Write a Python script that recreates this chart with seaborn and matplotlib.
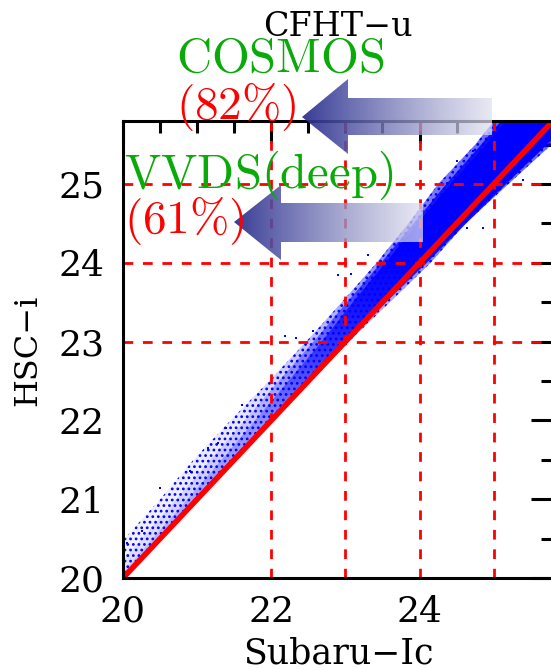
import numpy as np
import matplotlib
matplotlib.use("Agg")
import matplotlib.pyplot as plt
import seaborn as sns
from matplotlib.patches import Polygon
from matplotlib.ticker import FixedLocator, MultipleLocator

# ---------------- data ----------------
ref_line_ic = [20.0, 25.8]
ref_line_hsc = [20.0, 25.8]

# envelope of the point cloud at three density levels, per HSC-i value
band_hsc = [20.0, 20.5, 21.0, 21.5, 22.0, 22.5, 23.0, 23.5, 24.0, 24.5, 25.0, 25.5, 25.8]
sparse_ic_left = [19.55, 20.02, 20.5, 20.95, 21.45, 21.97, 22.47, 22.95, 23.42, 23.85, 24.25, 24.75, 25.0]
sparse_ic_right = [20.02, 20.52, 21.02, 21.52, 22.03, 22.53, 23.05, 23.6, 24.15, 24.62, 25.2, 25.78, 26.1]
mid_ic_left = [19.8, 20.25, 20.72, 21.18, 21.64, 22.1, 22.57, 23.02, 23.48, 23.92, 24.36, 24.83, 25.1]
mid_ic_right = [20.0, 20.5, 21.0, 21.5, 22.0, 22.5, 23.02, 23.55, 24.1, 24.63, 25.17, 25.72, 26.1]
dense_ic_left = [19.93, 20.4, 20.87, 21.33, 21.78, 22.23, 22.68, 23.1, 23.54, 23.97, 24.42, 24.9, 25.17]
dense_ic_right = [20.0, 20.5, 21.0, 21.5, 22.0, 22.5, 23.0, 23.53, 24.08, 24.6, 25.15, 25.7, 26.05]

# individual scattered points outside the bulk
outlier_ic = [20.5, 20.92, 21.15, 21.28, 21.39, 20.9, 22.18, 22.33, 22.56, 22.9, 23.07,
              24.5, 24.72, 24.85, 24.64, 20.05, 20.25, 21.6, 23.3, 25.4]
outlier_hsc = [21.14, 21.34, 21.65, 21.71, 21.91, 21.36, 23.07, 23.05, 23.14, 23.84, 23.86,
               25.29, 25.42, 24.44, 24.44, 20.45, 20.6, 22.2, 24.1, 25.05]

grid_x = [22, 23, 24, 25]
grid_y = [23, 24, 25]
x_major = [20, 22, 24]
y_major = [20, 21, 22, 23, 24, 25]
x_label = "Subaru\u2212Ic"
y_label = "HSC\u2212i"
title = "CFHT\u2212u"
ann_names = [r"$\mathrm{COSMOS}$", r"$\mathrm{VVDS(deep)}$"]
ann_pct = [r"$\mathrm{(82\%)}$", r"$\mathrm{(61\%)}$"]

# ---------------- figure ----------------
W, H = 551, 670
sns.set_theme(style="white")
plt.rcParams["font.family"] = ["DejaVu Serif", "DejaVu Sans"]
plt.rcParams["mathtext.fontset"] = "cm"
plt.rcParams["hatch.linewidth"] = 1.2

fig = plt.figure(figsize=(W / 100, H / 100), dpi=100)
ax = fig.add_axes([123 / W, 92 / H, 430 / W, 457 / H])


def shaded_band(left, right, alphas, z):
    coll = ax.fill_betweenx(band_hsc, left, right, facecolor="none", linewidth=0, zorder=z)
    path = coll.get_paths()[0]
    ys = np.linspace(20, 25.8, 300)
    a = np.interp(ys, [20, 22, 23.3, 24.3, 25.8], alphas)
    img = np.zeros((300, 1, 4))
    img[:, 0, 2] = 1.0
    img[:, 0, 3] = a
    im = ax.imshow(img, extent=(19.5, 26.2, 20, 25.8), origin="lower", aspect="auto",
                   interpolation="bilinear", zorder=z)
    im.set_clip_path(path, transform=ax.transData)


shaded_band(sparse_ic_left, sparse_ic_right, [0.05, 0.09, 0.3, 0.5, 0.6], 2.0)
shaded_band(mid_ic_left, mid_ic_right, [0.07, 0.15, 0.5, 0.8, 0.9], 2.1)
shaded_band(dense_ic_left, dense_ic_right, [0.12, 0.28, 0.7, 0.97, 1.0], 2.2)
ax.fill_betweenx(band_hsc, sparse_ic_left, sparse_ic_right, facecolor="none",
                 edgecolor="blue", hatch="...", linewidth=0, zorder=2.3)
sns.scatterplot(x=outlier_ic, y=outlier_hsc, color="blue", s=3, marker="s",
                linewidth=0, ax=ax, zorder=3)

# grid
for gx in grid_x:
    ax.axvline(gx, color="red", lw=2.0, ls=(0, (3.5, 3.5)), zorder=4)
for gy in grid_y:
    ax.axhline(gy, color="red", lw=2.0, ls=(0, (3.5, 3.5)), zorder=4)

# one-to-one line
sns.lineplot(x=ref_line_ic, y=ref_line_hsc, color="red", lw=4.0, ax=ax, zorder=5)

ax.set_xlim(20, 25.8)
ax.set_ylim(20, 25.8)
ax.xaxis.set_major_locator(FixedLocator(x_major))
ax.xaxis.set_minor_locator(MultipleLocator(0.5))
ax.yaxis.set_major_locator(FixedLocator(y_major))
ax.yaxis.set_minor_locator(MultipleLocator(0.5))
ax.tick_params(which="both", direction="in", top=True, right=True, width=2.2,
               color="black", labelsize=26, labelcolor="black")
ax.tick_params(which="major", length=16)
ax.tick_params(which="minor", length=8.5)
ax.tick_params(axis="x", which="major", pad=12)
ax.tick_params(axis="y", which="major", pad=13)
for s in ax.spines.values():
    s.set_color("black")
    s.set_linewidth(2.2)
    s.set_zorder(6)
ax.set_xlabel("")
ax.set_ylabel("")

# ---------------- overlay (arrows and annotations, pixel coordinates) ----------------
ov = fig.add_axes([0, 0, 1, 1], zorder=10)
ov.patch.set_alpha(0)
ov.axis("off")


def grad_arrow(tip_x, tip_y, head_x, head_top, head_bot, shaft_top, shaft_bot, tail_x):
    verts = [(tip_x, tip_y), (head_x, head_top), (head_x, shaft_top), (tail_x, shaft_top),
             (tail_x, shaft_bot), (head_x, shaft_bot), (head_x, head_bot)]
    poly = Polygon(verts, closed=True, facecolor="none", edgecolor="none")
    ov.add_patch(poly)
    t = np.linspace(0, 1, 256)
    c0 = np.array([0.15, 0.17, 0.55])
    c1 = np.array([0.88, 0.88, 0.94])
    rgb = c0[None, :] * (1 - t)[:, None] + c1[None, :] * t[:, None]
    alpha = 0.92 - 0.2 * t
    img = np.concatenate([rgb, alpha[:, None]], axis=1)[None, :, :]
    im = ov.imshow(img, extent=(tip_x, tail_x, head_bot, head_top), aspect="auto",
                   interpolation="bilinear", zorder=1)
    im.set_clip_path(poly)


grad_arrow(302, 117, 348, 79, 154, 98, 135, 492)
grad_arrow(234, 222, 281, 185, 260, 203, 242, 423)

ov.text(338, 36, title, ha="center", va="baseline", fontsize=24, color="black", zorder=2)
ov.text(176, 72, ann_names[0], ha="left", va="baseline", fontsize=35, color="#0aaa0a", zorder=3)
ov.text(176, 119, ann_pct[0], ha="left", va="baseline", fontsize=34, color="red", zorder=3)
ov.text(124, 188, ann_names[1], ha="left", va="baseline", fontsize=35, color="#0aaa0a", zorder=3)
ov.text(124, 233, ann_pct[1], ha="left", va="baseline", fontsize=34, color="red", zorder=3)

ov.text(338, 664, x_label, ha="center", va="baseline", fontsize=25, color="black")
ov.text(28, 350, y_label, ha="center", va="center", rotation=90, fontsize=23, color="black")

ov.set_xlim(0, W)
ov.set_ylim(H, 0)

fig.savefig("out.png", dpi=100)
